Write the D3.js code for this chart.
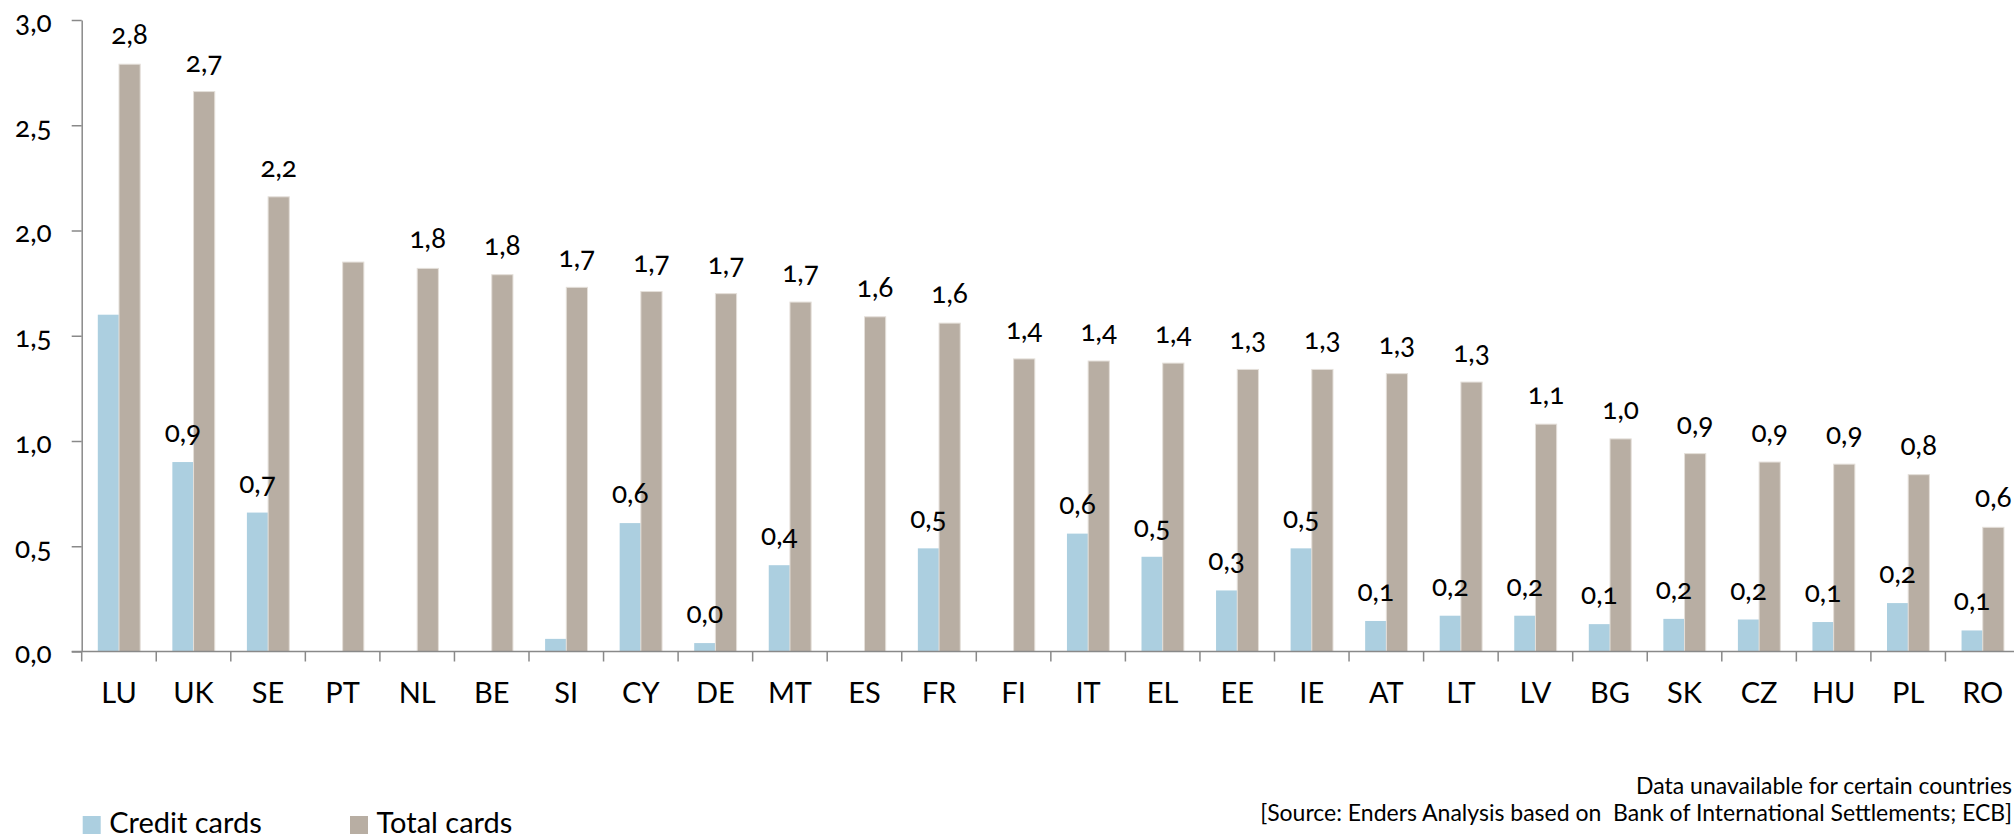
<!DOCTYPE html>
<html>
<head>
<meta charset="utf-8">
<script src="https://cdn.jsdelivr.net/npm/d3@7"></script>
<style>
  html, body { margin: 0; padding: 0; background: #fff; overflow: hidden; }
  svg { display: block; font-family: Lato, "Open Sans", sans-serif; }
  .num { font-variant-numeric: oldstyle-nums; font-feature-settings: "onum" 1; }
  .note { white-space: pre; }
</style>
</head>
<body>
<svg id="chart" width="2014" height="839"></svg>
<script>
const categories = ["LU","UK","SE","PT","NL","BE","SI","CY","DE","MT","ES","FR","FI","IT","EL","EE","IE","AT","LT","LV","BG","SK","CZ","HU","PL","RO"];
const creditCards = [1.60,0.90,0.66,null,null,null,0.06,0.61,0.04,0.41,null,0.49,null,0.56,0.45,0.29,0.49,0.145,0.17,0.17,0.13,0.155,0.152,0.14,0.23,0.10];
const totalCards  = [2.79,2.66,2.16,1.85,1.82,1.79,1.73,1.71,1.70,1.66,1.59,1.56,1.39,1.38,1.37,1.34,1.34,1.32,1.28,1.08,1.01,0.94,0.90,0.89,0.84,0.59];
const creditLabels = [null,"0,9","0,7",null,null,null,null,"0,6","0,0","0,4",null,"0,5",null,"0,6","0,5","0,3","0,5","0,1","0,2","0,2","0,1","0,2","0,2","0,1","0,2","0,1"];
const totalLabels  = ["2,8","2,7","2,2",null,"1,8","1,8","1,7","1,7","1,7","1,7","1,6","1,6","1,4","1,4","1,4","1,3","1,3","1,3","1,3","1,1","1,0","0,9","0,9","0,9","0,8","0,6"];
const yTicks = [0, 0.5, 1.0, 1.5, 2.0, 2.5, 3.0];
const seriesNames = ["Credit cards", "Total cards"];
const seriesColors = ["#accfe0", "#b8aea3"];
const noteLines = ["Data unavailable for certain countries", "[Source: Enders Analysis based on  Bank of International Settlements; ECB]"];

const svg = d3.select("#chart");
const axisColor = "#898989";
const plotLeft = 81.7, bandW = 74.55, plotTop = 20, plotBottom = 651.5;

const x = d3.scaleBand().domain(categories).range([plotLeft, plotLeft + bandW * categories.length]).padding(0);
const xs = d3.scaleBand().domain(["credit", "total"]).range([16.1, 58.5]).padding(0);
const y = d3.scaleLinear().domain([0, 3]).range([plotBottom, plotTop]);

const rows = categories.map((c, i) => ({ c, credit: creditCards[i], total: totalCards[i], cl: creditLabels[i], tl: totalLabels[i] }));

// y axis
const yAxis = d3.axisLeft(y).tickValues(yTicks).tickSize(10).tickSizeOuter(0).tickPadding(20)
  .tickFormat(d => d3.format(".1f")(d).replace(".", ","));
const gy = svg.append("g").attr("transform", `translate(${plotLeft},0)`).call(yAxis);
gy.select(".domain").attr("stroke", axisColor).attr("stroke-width", 1.5);
gy.selectAll(".tick line").attr("stroke", axisColor).attr("stroke-width", 1.5);
gy.selectAll(".tick text").attr("class", "num").attr("font-size", 28).attr("fill", "#000").attr("font-family", "Lato")
  .attr("dy", "0.4em");

// bars
const g = svg.append("g");
g.selectAll("rect.credit").data(rows.filter(d => d.credit != null)).join("rect")
  .attr("class", "credit")
  .attr("x", d => x(d.c) + xs("credit"))
  .attr("width", xs.bandwidth())
  .attr("y", d => y(d.credit))
  .attr("height", d => y(0) - y(d.credit))
  .attr("fill", seriesColors[0]);
g.selectAll("rect.total").data(rows).join("rect")
  .attr("class", "total")
  .attr("x", d => x(d.c) + xs("total"))
  .attr("width", xs.bandwidth())
  .attr("y", d => y(d.total))
  .attr("height", d => y(0) - y(d.total))
  .attr("fill", seriesColors[1])
  .attr("stroke", "#e4dfd9").attr("stroke-width", 1);

// x axis
const xRight = x.range()[1];
svg.append("line").attr("x1", plotLeft - 10).attr("x2", xRight).attr("y1", plotBottom).attr("y2", plotBottom)
  .attr("stroke", axisColor).attr("stroke-width", 1.5);
svg.append("g").selectAll("line").data(categories.concat(["end"])).join("line")
  .attr("x1", (d, i) => plotLeft + i * x.step()).attr("x2", (d, i) => plotLeft + i * x.step())
  .attr("y1", plotBottom).attr("y2", plotBottom + 10)
  .attr("stroke", axisColor).attr("stroke-width", 1.5);
const xAxis = d3.axisBottom(x).tickSize(0).tickPadding(0);
const gx = svg.append("g").attr("transform", `translate(0,${plotBottom})`).call(xAxis);
gx.select(".domain").remove();
gx.selectAll(".tick text").attr("font-size", 29).attr("fill", "#000").attr("font-family", "Lato")
  .attr("dy", null).attr("y", 51);

// data labels
const lab = svg.append("g").attr("class", "num").attr("font-size", 28).attr("text-anchor", "middle").attr("fill", "#000");
lab.selectAll("text.cl").data(rows.filter(d => d.cl != null)).join("text")
  .attr("class", "cl")
  .attr("x", d => x(d.c) + xs("credit") + xs.bandwidth() / 2)
  .attr("y", d => y(d.credit) - 20)
  .text(d => d.cl);
lab.selectAll("text.tl").data(rows.filter(d => d.tl != null)).join("text")
  .attr("class", "tl")
  .attr("x", d => x(d.c) + xs("total") + xs.bandwidth() / 2)
  .attr("y", d => y(d.total) - 20)
  .text(d => d.tl);

// legend
const leg = svg.append("g");
const legX = [82.7, 350];
seriesNames.forEach((s, i) => {
  leg.append("rect").attr("x", legX[i]).attr("y", 816).attr("width", 18).attr("height", 18).attr("fill", seriesColors[i]);
  leg.append("text").attr("x", legX[i] + 26.5).attr("y", 833).attr("font-size", 29).attr("fill", "#000").text(s);
});

// note
svg.append("g").selectAll("text").data(noteLines).join("text")
  .attr("class", "note")
  .attr("x", 2012).attr("y", (d, i) => 794 + i * 27)
  .attr("text-anchor", "end").attr("font-size", 23).attr("fill", "#000")
  .text(d => d);
</script>
</body>
</html>
